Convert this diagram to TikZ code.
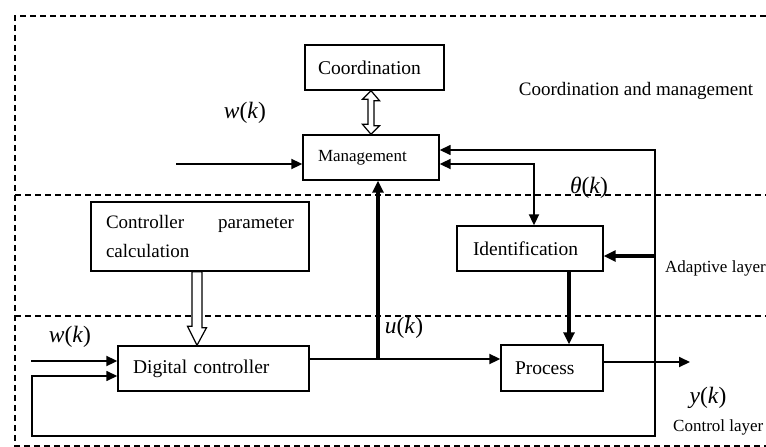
\documentclass[tikz,border=0pt]{standalone}
\usepackage{fontspec}
\setmainfont{Liberation Serif}
\usetikzlibrary{arrows.meta,calc}
\begin{document}
\begin{tikzpicture}[x=1pt,y=-1pt,
  box/.style={draw,line width=1.4pt,inner sep=0pt,align=left,font=\fontsize{19.5}{24}\selectfont},
  lbl/.style={font=\fontsize{17}{20}\selectfont,inner sep=0pt},
  mlbl/.style={font=\fontsize{23.5}{28}\selectfont,inner sep=0pt},
  arr/.style={line width=2pt,-{Triangle[length=11pt,width=10pt]}},
  thinarr/.style={line width=1.5pt,-{Triangle[length=11pt,width=10pt]}},
  arrtwo/.style={line width=2pt,{Triangle[length=11pt,width=10pt]}-{Triangle[length=11pt,width=10pt]}},
  thkarr/.style={line width=3.2pt,-{Triangle[length=12pt,width=11pt]}},
  layerline/.style={dash pattern=on 6pt off 4pt,line width=1.1pt},
  hollow/.style={draw,fill=white,line width=1.2pt,line join=miter}]
\useasboundingbox (0,0) rectangle (766,447);
% layer frame
\draw[layerline] (766,16) -- (15,16) -- (15,446) -- (766,446);
\draw[layerline] (15,195) -- (766,195);
\draw[layerline] (15,316) -- (766,316);
% boxes
\node[box,minimum width=139pt,minimum height=45pt,text width=113pt] (coord) at (374.5,67.5) {Coordination};
\node[box,minimum width=136pt,minimum height=45pt,text width=106pt,font=\fontsize{17}{20}\selectfont] (mgmt) at (371,157.5) {Management};
\node[box,minimum width=218pt,minimum height=69pt,text width=188pt,font=\fontsize{19}{29}\selectfont] (cpc) at (200,236.5) {Controller\hfill parameter\\calculation};
\node[box,minimum width=146pt,minimum height=45pt,text width=114pt] (ident) at (530,248.5) {Identification};
\node[box,minimum width=191pt,minimum height=45pt,text width=161pt] (dc) at (213.5,368.5) {Digital controller};
\node[box,minimum width=102pt,minimum height=46pt,text width=74pt] (proc) at (552,368) {Process};
% hollow arrows
\draw[hollow] (coord.south -| mgmt.north) -- ++(8.5,10) -- ++(-5.5,0) -- ++(0,25) -- ++(5.5,0) -- (mgmt.north) -- ++(-8.5,-10) -- ++(5.5,0) -- ++(0,-25) -- ++(-5.5,0) -- cycle;
\draw[hollow] ($(cpc.south)+(-8,0)$) -- ++(10,0) -- ++(0,56) -- ++(4.5,0) -- ($(cpc.south |- dc.north)+(-3,0)$) -- ++(-9.5,-19) -- ++(4.5,0) -- cycle;
% coordinates
\coordinate (wtop) at (176,164);
\coordinate (tap) at (655,362);
\coordinate (yout) at (690,362);
\coordinate (fb1) at (655,436);
\coordinate (fb2) at (32,436);
\coordinate (win) at (31,361);
\coordinate (uj) at (378,359);
\path ($(ident.east)+(0,7.5)$) coordinate (ie);
\path ($(proc.north)+(17,0)$) coordinate (pn);
\path ($(dc.east)+(0,-9.5)$) coordinate (de);
% connectors
\draw[arr] (wtop) -- (wtop -| mgmt.west);
\draw[thinarr] (tap) |- ($(mgmt.east)+(0,-7.5)$);
\draw[arrtwo] ($(mgmt.east)+(0,6.5)$) -| ($(ident.north)+(4,0)$);
\draw[thkarr] (ie -| tap) -- (ie);
\draw[thkarr] (pn |- ident.south) -- (pn);
\draw[arr] (de) -- (de -| proc.west);
\draw[thkarr] (uj) -- (uj |- mgmt.south);
\draw[arr] (proc.east |- yout) -- (yout);
\draw[thinarr,line join=miter] (tap) -- (fb1) -- (fb2) |- ($(dc.west)+(0,7.5)$);
\draw[arr] (win) -- (win -| dc.west);
% labels
\node[mlbl] (wt) at (245,113) {\textit{w}(\textit{k})};
\node[mlbl] (wb) at (70,337) {\textit{w}(\textit{k})};
\node[mlbl] (uk) at (404,328) {\textit{u}(\textit{k})};
\node[mlbl] (th) at (589,188) {\textit{θ}(\textit{k})};
\node[mlbl] (yk) at (708,398) {\textit{y}(\textit{k})};
\node[lbl,font=\fontsize{19}{22}\selectfont] (cm) at (636,91) {Coordination and management};
\node[lbl,anchor=west] (al) at (665,268) {Adaptive layer};
\node[lbl,anchor=west] (cl) at (673,427) {Control layer};
\end{tikzpicture}
\end{document}
